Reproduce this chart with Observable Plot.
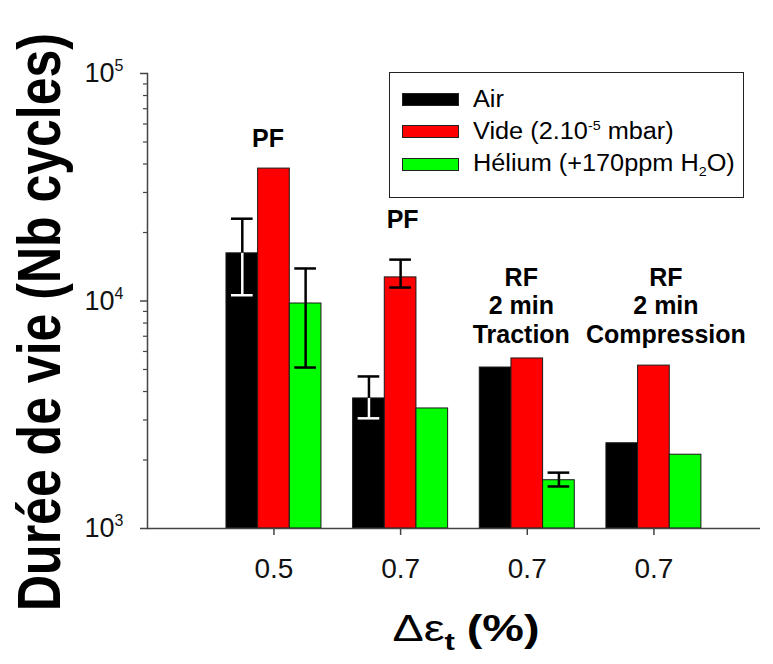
<!DOCTYPE html>
<html>
<head>
<meta charset="utf-8">
<script src="https://cdn.jsdelivr.net/npm/d3@7"></script>
<script src="https://cdn.jsdelivr.net/npm/@observablehq/plot@0.6"></script>
<style>
  html, body { margin: 0; padding: 0; background: #fff; }
  #wrap { position: relative; width: 773px; height: 664px; font-family: Arial, "Liberation Sans", sans-serif; color: #000; }
  #wrap svg { position: absolute; left: 0; top: 0; }
  .ytitle { position: absolute; left: 39px; top: 322px; white-space: nowrap; font-weight: bold; font-size: 50px; line-height: 1;
            transform: translate(-50%, -50%) rotate(-90deg) scaleY(1.22); }
  .xtitle { position: absolute; left: 466px; top: 611px; white-space: nowrap; font-size: 36px; line-height: 1;
            transform: translateX(-50%) scaleX(1.3); }
  .legend { position: absolute; left: 389px; top: 72px; width: 355px; height: 126px; box-sizing: border-box;
            border: 1.5px solid #222; padding-top: 10px; font-size: 23px; }
  .legend .row { display: flex; align-items: center; }
  .legend .sw { width: 57px; height: 13px; box-sizing: border-box; border: 1px solid #222; margin-left: 12px; margin-right: 14px; flex: none; }
  .legend .lab { transform: scaleX(1.1); transform-origin: left center; white-space: nowrap; }
  .legend sup { font-size: 13px; vertical-align: 9px; }
  .legend sub { font-size: 13px; vertical-align: -5px; }
</style>
</head>
<body>
<div id="wrap"></div>
<script>
// ---- data ----
const groups = ["PF 0.5", "PF 0.7", "RF Traction 0.7", "RF Compression 0.7"];
const xTickLabels = ["0.5", "0.7", "0.7", "0.7"];
const annotationTexts = ["PF", "PF", "RF\n2 min\nTraction", "RF\n2 min\nCompression"];
const annotationY = [47700, 21000, 6570, 6570];

const seriesNames = ["Air", "Vide", "Hélium"];
const legendLabels = ["Air", "Vide (2.10<sup>-5</sup> mbar)", "Hélium (+170ppm H<sub>2</sub>O)"];
const seriesColors = ["#000000", "#ff0000", "#00ff00"];

const airValues    = [16200, 3730, 5100, 2370];
const videValues   = [38200, 12700, 5590, 5200];
const heliumValues = [9750, 3370, 1630, 2110];

const airErrLow     = [10600, 3050, null, null];
const airErrHigh    = [23000, 4660, null, null];
const videErrLow    = [null, 11460, null, null];
const videErrHigh   = [null, 15200, null, null];
const heliumErrLow  = [5100, null, 1530, null];
const heliumErrHigh = [13900, null, 1760, null];

const yTicks = [1000, 10000, 100000];
const yMinorTicks = [2000, 3000, 4000, 5000, 6000, 7000, 8000, 9000,
                     20000, 30000, 40000, 50000, 60000, 70000, 80000, 90000];

// ---- build the table ----
const values = [airValues, videValues, heliumValues];
const lows = [airErrLow, videErrLow, heliumErrLow];
const highs = [airErrHigh, videErrHigh, heliumErrHigh];
const keyOf = (gi, si) => `${gi}|${si}`;
const rows = [];
groups.forEach((g, gi) => seriesNames.forEach((s, si) => rows.push({
  key: keyOf(gi, si), group: g, series: s,
  value: values[si][gi], lo: lows[si][gi], hi: highs[si][gi]
})));
const domain = [];
groups.forEach((g, gi) => {
  seriesNames.forEach((s, si) => domain.push(keyOf(gi, si)));
  if (gi < groups.length - 1) domain.push(`gap${gi}`);
});
const centerKeys = groups.map((g, gi) => keyOf(gi, 1));
const annotations = groups.map((g, gi) => ({key: centerKeys[gi], text: annotationTexts[gi], y: annotationY[gi]}));
const errRows = rows.filter(d => d.lo != null);
const errAir = errRows.filter(d => d.series === "Air");
const errOther = errRows.filter(d => d.series !== "Air");

const axisColor = "#444";
const textOpts = {x: "key", y: "y", text: "text", lineAnchor: "bottom", fontSize: 25, fontWeight: "bold", lineHeight: 1.13, fill: "black"};
const annotationShift = [-6, 2, -6, 12];

const plot = Plot.plot({
  width: 773, height: 664,
  marginTop: 73, marginBottom: 136, marginLeft: 147, marginRight: 13,
  style: {fontFamily: "Arial, 'Liberation Sans', sans-serif", color: "#111", background: "transparent"},
  x: {type: "band", domain, paddingInner: 0, paddingOuter: 2.18, align: 0.572, round: false, axis: null},
  y: {type: "log", domain: [yTicks[0], yTicks[yTicks.length - 1]], axis: null},
  color: {domain: seriesNames, range: seriesColors},
  marks: [
    Plot.barY(rows, {x: "key", y1: yTicks[0], y2: "value", fill: "series", stroke: "#1a1a1a", strokeWidth: 1}),
    // error bars: upper half black, lower half (inside bar) white for Air
    Plot.ruleX(errRows, {x: "key", y1: "value", y2: "hi", stroke: "black", strokeWidth: 2.5}),
    Plot.tickY(errRows, {x: "key", y: "hi", stroke: "black", strokeWidth: 2.5, insetLeft: 5, insetRight: 5}),
    Plot.ruleX(errAir, {x: "key", y1: "lo", y2: "value", stroke: "white", strokeWidth: 2.5}),
    Plot.tickY(errAir, {x: "key", y: "lo", stroke: "white", strokeWidth: 2.5, insetLeft: 5, insetRight: 5}),
    Plot.ruleX(errOther, {x: "key", y1: "lo", y2: "value", stroke: "black", strokeWidth: 2.5}),
    Plot.tickY(errOther, {x: "key", y: "lo", stroke: "black", strokeWidth: 2.5, insetLeft: 5, insetRight: 5}),
    // annotations
    ...annotations.map((a, i) => Plot.text([a], {...textOpts, dx: annotationShift[i]})),
    // axes
    Plot.ruleY([yTicks[0]], {stroke: axisColor, strokeWidth: 1.5}),
    Plot.frame({anchor: "left", stroke: axisColor, strokeWidth: 1.5}),
    Plot.axisY({ticks: yMinorTicks, tickSize: 4, tickFormat: () => "", stroke: axisColor, strokeWidth: 1.2, label: null}),
    Plot.axisY({ticks: yTicks, tickSize: 7, tickPadding: 17, stroke: axisColor, strokeWidth: 1.5,
                tickFormat: d => "10^" + Math.round(Math.log10(d)), fontSize: 27, fill: "#111", label: null}),
    Plot.axisX({ticks: centerKeys, tickSize: 7, tickPadding: 23, stroke: axisColor, strokeWidth: 1.5,
                tickFormat: k => xTickLabels[centerKeys.indexOf(k)], fontSize: 28, fill: "#111", label: null})
  ]
});

// superscript exponents on y tick labels
d3.select(plot).selectAll("text").each(function () {
  const t = this.textContent;
  if (t && t.startsWith("10^") && !this.querySelector("tspan")) {
    const exp = t.slice(3);
    const sel = d3.select(this);
    sel.text("10");
    sel.append("tspan").attr("font-size", 16).attr("dy", -11).text(exp);
  }
});

const wrap = document.getElementById("wrap");
wrap.appendChild(plot);

// axis titles
const yt = document.createElement("div");
yt.className = "ytitle";
yt.textContent = "Durée de vie (Nb cycles)";
wrap.appendChild(yt);

const xt = document.createElement("div");
xt.className = "xtitle";
xt.innerHTML = '<span>Δε</span><span style="font-weight:bold;font-size:24px;vertical-align:-9px">t</span><span style="font-weight:bold;margin-left:9px">(%)</span>';
wrap.appendChild(xt);

// legend
const lg = document.createElement("div");
lg.className = "legend";
const rowHeights = [32, 32, 34];
seriesNames.forEach((s, i) => {
  const r = document.createElement("div");
  r.className = "row";
  r.style.height = rowHeights[i] + "px";
  r.innerHTML = `<div class="sw" style="background:${seriesColors[i]}"></div><div class="lab">${legendLabels[i]}</div>`;
  lg.appendChild(r);
});
wrap.appendChild(lg);
</script>
</body>
</html>
